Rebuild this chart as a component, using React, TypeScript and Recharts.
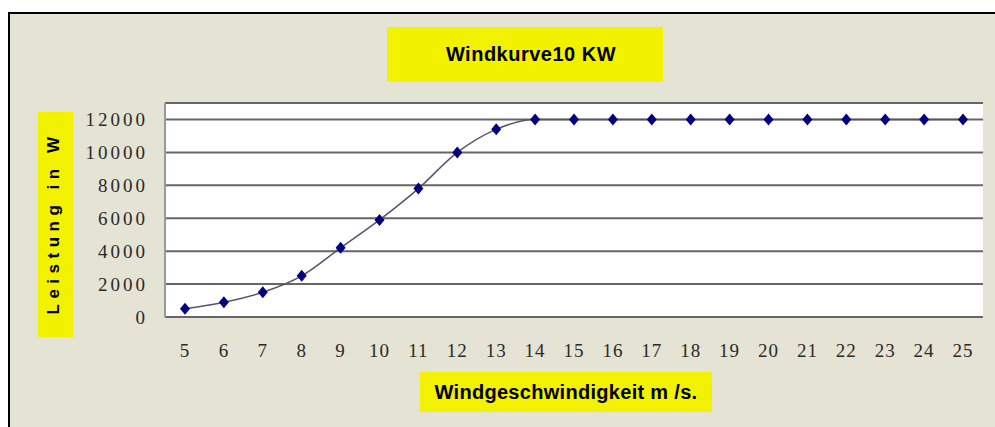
import { LineChart, Line, XAxis, YAxis, CartesianGrid } from 'recharts'

// wind speed (m/s) and output power (W)
const speeds = [5, 6, 7, 8, 9, 10, 11, 12, 13, 14, 15, 16, 17, 18, 19, 20, 21, 22, 23, 24, 25]
const power = [
  500, 900, 1500, 2500, 4200, 5900, 7800, 10000, 11400, 12000, 12000, 12000, 12000, 12000, 12000,
  12000, 12000, 12000, 12000, 12000, 12000,
]
const yTicks = [0, 2000, 4000, 6000, 8000, 10000, 12000]

const data = speeds.map((s, i) => ({ speed: s, power: power[i] }))

const YELLOW = '#F2F200'
const BEIGE = '#E5E3D3'

interface DotProps {
  cx?: number
  cy?: number
  index?: number
}

function Diamond({ cx, cy, index }: DotProps) {
  if (cx == null || cy == null) return null
  return (
    <path
      key={index}
      d={`M${cx},${cy - 6}L${cx + 5},${cy}L${cx},${cy + 6}L${cx - 5},${cy}Z`}
      fill="#000080"
    />
  )
}

const tickFont = { fill: '#2a2a2a', fontSize: 19, fontFamily: '"Liberation Serif", serif' }

export default function App() {
  return (
    <div
      style={{
        position: 'absolute',
        left: 0,
        top: 0,
        width: 995,
        height: 427,
        background: '#fff',
        overflow: 'hidden',
      }}
    >
      <div
        style={{
          position: 'absolute',
          left: 8,
          top: 12,
          width: 995,
          height: 427,
          background: BEIGE,
          borderLeft: '2px solid #000',
          borderTop: '2px solid #000',
        }}
      />

      <div style={{ position: 'absolute', left: 0, top: 0 }}>
        <LineChart width={995} height={427} data={data} margin={{ top: 103, right: 12, bottom: 60, left: 15 }}>
          <CartesianGrid vertical={false} fill="#fff" stroke="#666" strokeWidth={2} />
          <XAxis
            dataKey="speed"
            interval={0}
            padding={{ left: 20, right: 20 }}
            tick={{ ...tickFont, letterSpacing: 1 }}
            tickLine={false}
            tickSize={0}
            tickMargin={27}
            height={50}
            axisLine={{ stroke: '#666', strokeWidth: 2 }}
          />
          <XAxis
            xAxisId="top"
            orientation="top"
            dataKey="speed"
            tick={false}
            tickLine={false}
            height={0}
            axisLine={{ stroke: '#aaa', strokeWidth: 2 }}
          />
          <YAxis
            domain={[0, 13000]}
            ticks={yTicks}
            tick={{ ...tickFont, letterSpacing: 3 }}
            tickLine={false}
            tickSize={0}
            tickMargin={17}
            width={150}
            axisLine={{ stroke: '#999', strokeWidth: 2 }}
          />
          <YAxis
            yAxisId="right"
            orientation="right"
            domain={[0, 13000]}
            tick={false}
            tickLine={false}
            width={0}
            axisLine={{ stroke: '#aaa', strokeWidth: 2 }}
          />
          <Line
            dataKey="power"
            type="monotone"
            stroke="#55556a"
            strokeWidth={1.5}
            dot={<Diamond />}
            activeDot={false}
            isAnimationActive={false}
          />
        </LineChart>
      </div>

      <div
        style={{
          position: 'absolute',
          left: 387,
          top: 27,
          width: 276,
          height: 55,
          background: YELLOW,
          display: 'flex',
          alignItems: 'center',
          justifyContent: 'center',
          paddingLeft: 12,
          boxSizing: 'border-box',
          fontFamily: '"Liberation Sans", Arial, sans-serif',
          fontWeight: 'bold',
          fontSize: 20,
          letterSpacing: 0.5,
          color: '#000',
          whiteSpace: 'nowrap',
        }}
      >
        Windkurve10 KW
      </div>

      <div
        style={{
          position: 'absolute',
          left: 38,
          top: 112,
          width: 35,
          height: 225,
          background: YELLOW,
        }}
      >
        <span
          style={{
            position: 'absolute',
            left: '50%',
            top: '50%',
            transform: 'translate(-50%, -50%) translate(-3px, -2px) rotate(-90deg)',
            fontFamily: '"Liberation Sans", Arial, sans-serif',
            fontWeight: 'bold',
            fontSize: 17,
            letterSpacing: 5.5,
            color: '#000',
            whiteSpace: 'nowrap',
            lineHeight: 1,
          }}
        >
          Leistung in W
        </span>
      </div>

      <div
        style={{
          position: 'absolute',
          left: 420,
          top: 372,
          width: 292,
          height: 40,
          background: YELLOW,
          display: 'flex',
          alignItems: 'center',
          justifyContent: 'center',
          fontFamily: '"Liberation Sans", Arial, sans-serif',
          fontWeight: 'bold',
          fontSize: 20,
          letterSpacing: 0.3,
          color: '#000',
          whiteSpace: 'nowrap',
        }}
      >
        Windgeschwindigkeit m /s.
      </div>
    </div>
  )
}
